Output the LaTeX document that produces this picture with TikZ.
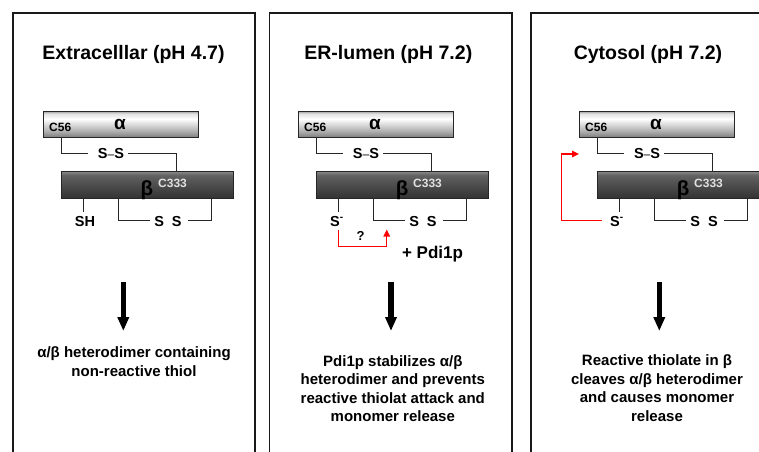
\documentclass[tikz,border=0pt]{standalone}
\usepackage{fontspec}
\setmainfont{Liberation Sans}
\usetikzlibrary{arrows.meta}
\pgfdeclareverticalshading{alphashade}{100bp}{color(0bp)=(black!50); color(25bp)=(black!50); color(36bp)=(black!32); color(60bp)=(white); color(70bp)=(white!88!black); color(75bp)=(black!40); color(100bp)=(black!40)}
\pgfdeclareverticalshading{betashade}{100bp}{color(0bp)=(black!80); color(25bp)=(black!80); color(50bp)=(black!70); color(68bp)=(black!62); color(75bp)=(black!48); color(100bp)=(black!48)}
\tikzset{
  abar/.style={draw=black!85, line width=0.8pt, shading=alphashade, minimum width=155pt, minimum height=26pt, inner sep=0pt},
  bbar/.style={draw=black!85, line width=0.8pt, shading=betashade, minimum width=172pt, minimum height=26.5pt, inner sep=0pt},
  lbl/.style={font=\bfseries\fontsize{12}{14}\selectfont, inner sep=0pt},
  ss/.style={font=\bfseries\fontsize{14.5}{17}\selectfont, inner sep=0pt},
  greek/.style={font=\bfseries\fontsize{#1}{#1}\selectfont, inner sep=0pt, anchor=base},
  link/.style={draw=black!85, line width=1pt},
  redarr/.style={draw=red, line width=1.2pt, -{Triangle[length=7pt,width=6.5pt]}},
  panel/.style={line width=1.6pt, draw=black!90},
  title/.style={font=\bfseries\fontsize{19.5}{23}\selectfont, anchor=base, inner sep=0pt},
  body/.style={font=\bfseries\fontsize{15}{18.5}\selectfont, align=center, anchor=north, inner sep=0pt},
  bigarrow/.style={draw=black, line width=5.4pt, -{Triangle[length=14pt,width=11pt]}},
}
\newcommand\dimerunit[1]{%
  \node[abar] (#1a) at (120.5,124) {};
  \node[lbl, anchor=base west] (#1c56) at (49,131) {C56};
  \node[greek=19] (#1al) at (120,129) {α};
  \node[bbar] (#1b) at (147,185) {};
  \node[greek=20.5] (#1be) at (147,195) {β};
  \node[lbl, text=black!12, anchor=base west] (#1c333) at (158,187) {C333};
  \node[ss, anchor=base] (#1ss) at (111,158.2) {S{\mdseries\fontsize{12}{12}\selectfont –}S};
  \coordinate (#1l1) at (88,153);
  \coordinate (#1l2) at (128,153);
  \draw[link] (61,0 |- #1a.south) -- (61,153) -- (#1l1);
  \draw[link] (#1l2) -- (176,153) -- (176,0 |- #1b.north);
  \node[ss, anchor=base] (#1dss) at (168,226.2) {S\hspace{8pt}S};
  \coordinate (#1r1) at (150,220);
  \coordinate (#1r2) at (188,220);
  \draw[link] (118,0 |- #1b.south) -- (118,220) -- (#1r1);
  \draw[link] (#1r2) -- (211,220) -- (211,0 |- #1b.south);
}
\begin{document}
\begin{tikzpicture}[x=1pt,y=-1pt]
\useasboundingbox (0,0) rectangle (759,451);
\clip (0,0) rectangle (759,451);
% panels
\draw[panel] (13,455) -- (13,13) -- (255,13) -- (255,455);
\draw[panel] (269.3,455) -- (269.3,13) -- (511.7,13) -- (511.7,455);
\draw[panel] (531,455) -- (531,13) -- (765,13);
% titles
\node[title] (t1) at (133.5,59.5) {Extracelllar (pH 4.7)};
\node[title] (t2) at (388.3,59.5) {ER-lumen (pH 7.2)};
\node[title] (t3) at (648,59.5) {Cytosol (pH 7.2)};
% left
\begin{scope}
  \dimerunit{L}
  \coordinate (Lt) at (83.3,211.7);
  \draw[link] (83.3,0 |- Lb.south) -- (Lt);
  \node[ss, anchor=base] (Lsh) at (85,226.2) {SH};
\end{scope}
% middle
\begin{scope}[xshift=255pt]
  \dimerunit{M}
  \coordinate (Mt) at (83.3,211.7);
  \draw[link] (83.3,0 |- Mb.south) -- (Mt);
  \node[ss, anchor=base west] (Mth) at (75,226.2) {S\textsuperscript{-}};
  \coordinate (Mq1) at (83.3,230);
  \coordinate (Mq2) at (131.7,229.5);
  \draw[redarr] (Mq1) -- (83.3,246.7) -- (131.7,246.7) -- (Mq2);
  \node[font=\bfseries\fontsize{13}{13}\selectfont, inner sep=0pt, anchor=base] (Mq) at (105.7,240.3) {?};
\end{scope}
\node[font=\bfseries\fontsize{17}{17}\selectfont, inner sep=0pt, anchor=base] (pdi) at (432.5,258.8) {+ Pdi1p};
% right
\begin{scope}[xshift=536pt]
  \dimerunit{R}
  \coordinate (Rt) at (83.3,211.7);
  \draw[link] (83.3,0 |- Rb.south) -- (Rt);
  \node[ss, anchor=base west] (Rth) at (74,226.2) {S\textsuperscript{-}};
  \coordinate (Rq1) at (65.7,220.7);
  \coordinate (Rq2) at (43,154);
  \draw[redarr] (Rq1) -- (25.7,220.7) -- (25.7,154) -- (Rq2);
\end{scope}
% big arrows
\coordinate (a1s) at (123.3,282); \coordinate (a1e) at (123.3,331);
\coordinate (a2s) at (391,282);   \coordinate (a2e) at (391,331);
\coordinate (a3s) at (659.3,282); \coordinate (a3e) at (659.3,331);
\draw[bigarrow] (a1s) -- (a1e);
\draw[bigarrow] (a2s) -- (a2e);
\draw[bigarrow] (a3s) -- (a3e);
% body texts
\node[body] (b1) at (134,346.8) {α/β heterodimer containing\\non-reactive thiol};
\node[body] (b2) at (392.8,355.2) {Pdi1p stabilizes α/β\\heterodimer and prevents\\reactive thiolat attack and\\monomer release};
\node[body] (b3) at (657,354.7) {Reactive thiolate in β\\cleaves α/β heterodimer\\and causes monomer\\release};
\end{tikzpicture}
\end{document}
